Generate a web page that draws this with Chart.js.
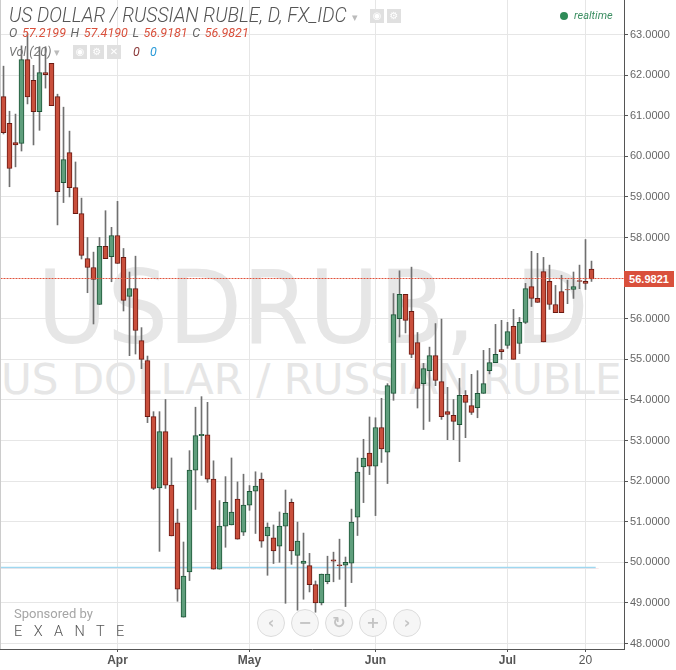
<html>
<head>
<script src="https://cdn.jsdelivr.net/npm/chart.js@4/dist/chart.umd.min.js"></script>
<style>
body { margin:0; background:#fff; font-family:'Roboto',sans-serif; }
#wrap { position:relative; width:676px; height:670px; overflow:hidden; }
canvas { position:absolute; left:0; top:0; z-index:1; }
.t { position:absolute; white-space:nowrap; z-index:2; }
.wm { position:absolute; white-space:nowrap; z-index:0; font-family:'DejaVu Sans'; color:#e6e6e6; }
.ic { position:absolute; z-index:2; width:14px; height:14px; background:#e0e0e0; color:#fff; font:10px/14px 'DejaVu Sans'; text-align:center; }
.btn { position:absolute; z-index:2; width:26px; height:26px; border:1px solid #dcdcdc; border-radius:50%; background:#f6f6f6; color:#c4c4c4; font:bold 16px/26px 'DejaVu Sans'; text-align:center; }
.red { color:#d9503c; }
</style>
</head>
<body>
<div id="wrap">
  <div class="wm" style="left:37px;top:250px;font-size:96px;word-spacing:9px;transform:scaleY(1.05);transform-origin:0 0;">USDRUB, D</div>
  <div class="wm" style="left:1px;top:355px;font-size:42px;">US DOLLAR / RUSSIAN RUBLE</div>
  <canvas id="myChart" width="676" height="670"></canvas>

  <div class="t" style="left:0;top:0;width:1px;height:649px;background:#ccc;"></div>
  <div class="t" style="left:9px;top:4px;font:italic 300 19.3px Roboto;color:#555;">US DOLLAR / RUSSIAN RUBLE, D, FX_IDC</div>
  <div class="t" style="left:352px;top:11px;font:11px 'DejaVu Sans';color:#bbb;">&#9662;</div>
  <div class="ic" style="left:370px;top:9px;">&#9673;</div>
  <div class="ic" style="left:387px;top:9px;">&#9881;</div>
  <div class="t" style="left:9px;top:25px;font:italic 12.5px Roboto;color:#666;word-spacing:1.5px;">O <span class="red">57.2199</span> H <span class="red">57.4190</span> L <span class="red">56.9181</span> C <span class="red">56.9821</span></div>
  <div class="t" style="left:9px;top:44px;font:italic 12.5px Roboto;color:#777;">Vol (20)</div>
  <div class="t" style="left:54px;top:46px;font:11px 'DejaVu Sans';color:#bbb;">&#9662;</div>
  <div class="ic" style="left:73px;top:45px;">&#9673;</div>
  <div class="ic" style="left:90px;top:45px;">&#9881;</div>
  <div class="ic" style="left:107px;top:45px;">&#10005;</div>
  <div class="t" style="left:133px;top:44px;font:italic 12.5px Roboto;color:#8c3a3a;">0</div>
  <div class="t" style="left:150px;top:44px;font:italic 12.5px Roboto;color:#2b9bd8;">0</div>
  <div class="t" style="left:560px;top:12px;width:8px;height:8px;border-radius:50%;background:#2e8b57;"></div>
  <div class="t" style="left:574px;top:9px;font:italic 11px Roboto;color:#3d8f63;">realtime</div>

  <div class="t" style="left:624px;top:271px;width:50px;height:16px;background:#d9503c;color:#fff;font:bold 11px/16px 'Liberation Sans';text-align:center;">56.9821</div>

  <div class="t" style="left:14px;top:606px;font:13px Roboto;color:#a5a5a5;">Sponsored by</div>
  <div class="t" style="left:14px;top:623px;font:300 14.5px Roboto;color:#555;letter-spacing:11.4px;">EXANTE</div>

  <div class="btn" style="left:257px;top:609px;">&#8249;</div>
  <div class="btn" style="left:291px;top:609px;">&#8722;</div>
  <div class="btn" style="left:325px;top:609px;">&#8635;</div>
  <div class="btn" style="left:359px;top:609px;">+</div>
  <div class="btn" style="left:393px;top:609px;">&#8250;</div>
</div>
<script>

var opens  = [61.47,60.81,60.34,60.32,62.38,61.87,61.10,62.06,62.29,61.47,59.35,60.09,59.23,58.59,57.48,57.26,56.35,57.78,57.53,58.05,
  57.51,56.55,56.74,55.46,54.97,53.59,51.83,53.22,51.90,50.97,48.65,49.76,52.27,53.12,53.14,52.05,49.83,50.89,50.92,51.56,
  50.74,51.41,51.75,52.05,50.65,50.60,50.40,50.89,51.48,50.17,49.97,49.92,49.45,49.00,49.52,50.06,49.94,49.93,49.98,51.11,
  52.35,52.69,52.37,53.32,52.71,54.16,56.00,56.60,56.18,55.41,54.40,54.72,55.09,54.45,53.71,53.62,53.39,54.11,53.86,53.81,
  54.16,54.72,54.92,55.24,55.34,55.81,55.39,55.91,56.79,56.50,57.16,56.92,56.35,56.67,56.72,56.72,56.94,56.92,57.2199];
var highs  = [62.22,61.11,61.04,62.72,63.02,62.24,62.70,62.70,62.29,61.53,61.21,60.62,59.86,58.97,58.00,57.64,58.00,58.66,58.25,58.89,
  57.73,57.15,57.54,55.78,55.08,53.71,53.71,54.01,52.57,51.31,50.50,52.75,53.82,54.08,53.94,52.50,51.52,52.11,52.57,51.98,
  52.17,51.89,52.23,52.20,50.97,50.92,51.24,51.78,51.56,50.99,50.72,50.22,49.54,49.71,50.15,50.25,50.57,50.13,51.31,52.57,
  53.03,53.58,53.56,54.04,54.40,56.62,57.18,56.60,57.27,55.66,54.90,55.30,55.88,55.99,54.31,54.01,54.53,54.23,54.63,54.72,
  55.22,55.27,55.86,55.96,55.91,56.23,56.03,56.87,57.66,57.61,57.51,57.32,56.82,57.07,56.95,57.15,57.32,57.95,57.4190];
var lows   = [60.55,59.25,59.74,60.13,61.29,60.28,60.64,61.68,61.25,58.31,58.86,59.00,58.59,57.47,56.64,55.87,56.35,57.48,56.91,57.36,
  56.19,55.09,55.13,54.77,53.44,51.79,50.27,51.82,50.65,49.04,48.65,49.55,51.30,52.14,51.97,49.83,49.83,50.37,50.92,50.57,
  50.66,51.28,50.71,50.37,49.68,49.97,50.00,48.99,49.95,48.82,49.09,49.27,48.77,48.95,49.47,49.52,49.58,48.91,49.50,50.66,
  51.47,52.16,51.15,52.46,51.94,53.99,55.55,55.65,55.04,53.80,53.27,53.47,54.35,53.52,53.02,53.02,52.48,53.07,53.64,53.56,
  54.16,54.64,54.92,55.00,55.27,55.00,55.14,55.88,56.30,56.40,55.43,56.23,56.15,56.15,56.37,56.50,56.74,56.72,56.9181];
var closes = [60.58,59.70,60.28,62.38,61.46,61.10,62.06,62.01,61.25,59.13,59.92,59.23,58.59,57.56,57.26,56.97,57.78,57.48,58.05,57.36,
  56.45,56.74,55.71,55.00,53.59,51.82,53.22,51.90,50.65,49.34,49.66,52.27,53.12,53.15,52.05,49.83,50.89,51.48,51.24,50.57,
  51.41,51.75,51.88,50.52,50.87,50.28,50.89,51.21,50.28,50.52,50.03,49.45,49.00,49.71,49.71,50.03,49.92,50.00,50.99,52.22,
  52.57,52.37,53.32,52.79,54.35,56.10,56.60,55.96,55.12,54.28,54.77,55.09,54.48,53.59,53.64,53.47,54.11,53.94,53.69,54.16,
  54.40,54.92,55.12,55.19,55.68,55.00,55.91,56.74,56.50,56.40,55.43,56.35,56.15,56.15,56.71,56.79,56.92,56.87,56.9821];

var tickIndex  = [19,41,62,84,97];
var tickLabels = ["Apr","May","Jun","Jul","20"];
var priceTicks = [48,49,50,51,52,53,54,55,56,58,59,60,61,62,63];
var lastPrice  = 56.99;
var volBlue    = 49.872;
var volPink    = 49.847;

var bodies = opens.map((o,i) => ({x:i, y:[o,closes[i]]}));
var wicks  = lows.map((l,i) => ({x:i, y:[l,highs[i]]}));
var fills  = opens.map((o,i) => closes[i] < o ? '#c94f3c' : '#5f9e7c');
var edges  = opens.map((o,i) => closes[i] < o ? '#6b1a12' : '#1c5537');

var ctx = document.getElementById('myChart').getContext('2d');
var myChart = new Chart(ctx, {
  data: {
    datasets: [
      {type:'line', data:[{x:-1,y:lastPrice},{x:104,y:lastPrice}], borderColor:'#e0523c', borderWidth:1, borderDash:[2,1], pointRadius:0, order:0},
      {type:'bar', data:bodies, backgroundColor:fills, borderColor:edges, borderWidth:1, borderSkipped:false, barThickness:5, grouped:false, order:1},
      {type:'bar', data:wicks, backgroundColor:'#707070', borderWidth:0, barThickness:1, grouped:false, order:2},
      {type:'line', data:[{x:-0.5,y:volPink},{x:99.2,y:volPink}], borderColor:'#fae8ea', borderWidth:1, pointRadius:0, order:4},
      {type:'line', data:[{x:-0.5,y:volBlue},{x:98.7,y:volBlue}], borderColor:'#9fd8f0', borderWidth:1.5, pointRadius:0, order:3}
    ]
  },
  options: {
    responsive:false,
    animation:false,
    layout:{padding:0},
    plugins:{legend:{display:false}, tooltip:{enabled:false}},
    scales: {
      x:{
        type:'linear', position:'bottom',
        min:-3.5/6, max:620.5/6,
        offset:false,
        afterBuildTicks: s => { s.ticks = tickIndex.map(v => ({value:v})); },
        afterFit: s => { s.height = 21; s.paddingLeft = 0; s.paddingRight = 0; },
        grid:{color:'#e6e6e6', tickColor:'#555', tickLength:3, offset:false},
        border:{color:'#555', width:1},
        ticks:{
          autoSkip:false, maxRotation:0, padding:1, color:'#555',
          font: c => ({family:'Liberation Sans', size:12, weight: c.tick && c.tick.value == 97 ? 'normal' : 'bold'}),
          callback: v => tickLabels[tickIndex.indexOf(v)]
        }
      },
      y:{
        type:'linear', position:'right',
        min:63-(649-34.5)/40.6, max:63+34.5/40.6,
        afterBuildTicks: s => { s.ticks = priceTicks.map(v => ({value:v})); },
        afterFit: s => { s.width = 52; s.paddingTop = 0; s.paddingBottom = 0; },
        grid:{color:'#e6e6e6', tickColor:'#555', tickLength:4},
        border:{color:'#555', width:1},
        ticks:{padding:2, color:'#666', font:{family:'Liberation Sans', size:11}, callback: v => v.toFixed(4)}
      }
    }
  }
});
</script>
</body>
</html>
